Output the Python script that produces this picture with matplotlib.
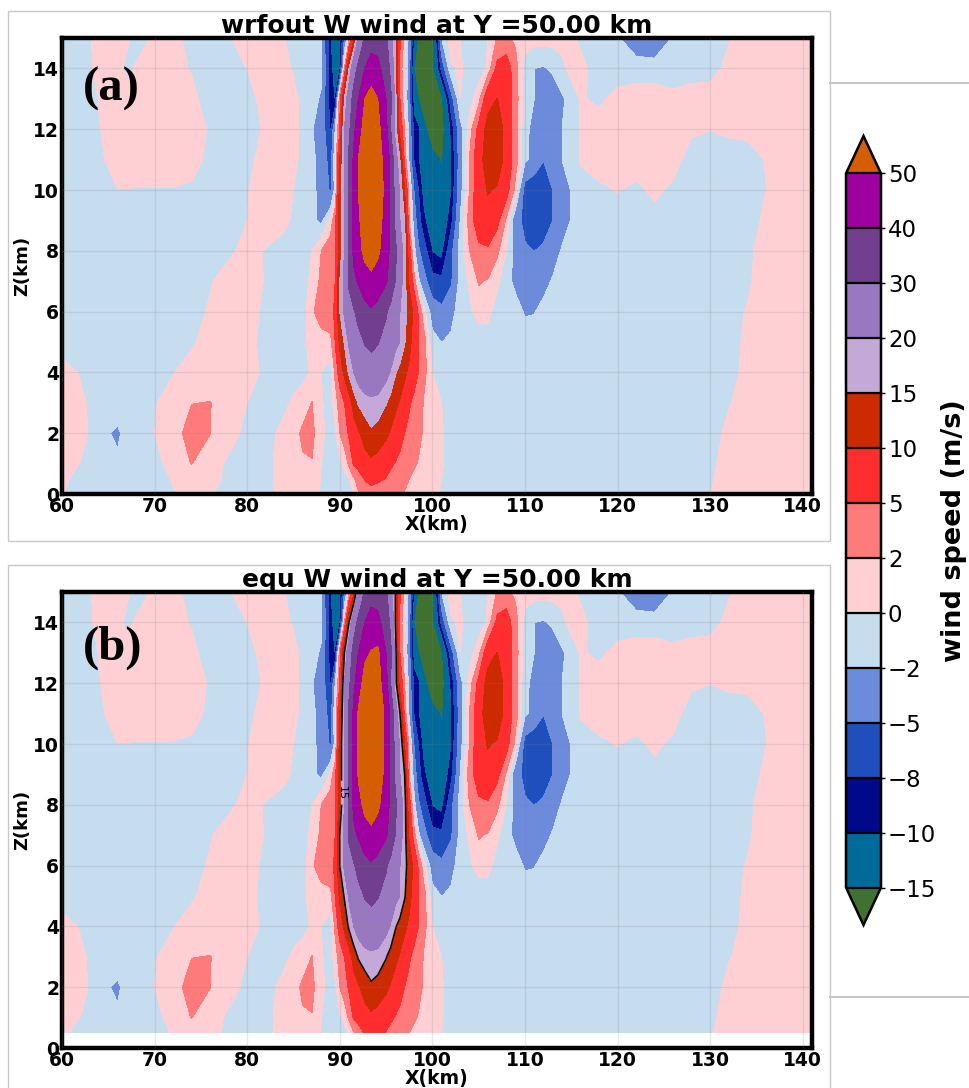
import numpy as np
from matplotlib import pyplot as plt
from matplotlib.patches import Rectangle
from matplotlib.lines import Line2D

z_km = [15, 14, 13, 12, 11, 10, 9, 8, 7, 6, 5, 4, 3, 2, 1, 0.5, 0]

x_left = [60, 62, 64, 66, 67, 68, 70, 72, 74, 76, 78, 80, 82, 84, 85, 86, 87, 88]
w_left = [
    [-1, -1.2, .8, 1.3, .4, -.7, .25, 1, -1.1, -1, -.15, .85, 1, .05, -.5, -1, -1.2, -1.9],
    [-1, -1.3, .7, .75, -.5, .2, 1, .8, -.2, -1, -1, .05, 1, .35, -.15, -.8, -1.1, -1.6],
    [-1, -1.9, .1, 1, 1, 1, 1, 1, .7, -1.3, -1, -1, 1, 1, .5, -.5, -1.5, -2.2],
    [-1, -1, -.1, 1, 1, 1, 1, 1, 1.2, -.3, -1, -1.5, .5, 1, .6, -.4, -1.9, -2.8],
    [-1, -1, -.6, 1.4, 1, 1, 1, 1, .6, -.4, -1, -.8, 1.2, 1, .5, -.5, -1.6, -2.7],
    [-1, -1, -.6, -.05, -.05, -.1, -.1, -.1, -.25, -.6, -1, -.1, .9, 1, 0, -1, -1.7, -2.4],
    [-1, -1, -1, -1, -1, -1, -1, -1, -1, -1, -1, 0, 1, .6, -.4, -1, -1.3, -2.6],
    [-1, -1, -1, -1, -1, -1, -1, -1, -1, -1, -.4, .6, -.13, -1, -1, -.6, 0, 2],
    [-1, -1, -1, -1, -1, -1, -1, -1, -1, -.15, .85, 1, -.15, -1, -1, -.8, .5, 2.5],
    [-1, -1, -1, -1, -1, -1, -1, -1, -.75, .25, 1, .65, -.35, -1, -1, -1, 1.7, 3],
    [-1, -1, -1, -1, -1, -1, -1, -1, -.3, .9, 1, .5, -.5, -1, -1, -.4, .6, 1.2],
    [.85, -.15, -1, -1, -1, -1, -1, -.1, .9, 1, 1, .65, -.35, -1, -1, -.7, .3, 0],
    [1, .3, -.7, -.5, -1, -1, -.15, .85, 1.95, 2.05, 1, 0, -1, -.6, .4, 1.2, 2.05, .2],
    [1, .8, -1.2, -2.5, -1, -1, 0, 1, 3, 2.05, .7, -.47, -1.1, .9, 1.4, 2.3, 2.5, .6],
    [.95, -.05, -1, -1.5, -1, -1, -.9, 1.1, 2.05, .7, -.3, -1, -.8, 1.2, 1.3, 1.8, 1.9, 0],
    [.4, -.6, -1, -1, -1, -1, -1.7, .3, 1, .6, -.4, -1, -.8, 1.2, 1, 1, 1, -.1],
    [.1, -.9, -1, -1, -1, -1, -1, -.25, .75, .4, -1.6, -1, -1, 1, 1, 1, .8, -.2],
]

x_core = [89, 89.5, 90, 90.5, 91, 91.5, 92, 92.7, 93.4, 94.1, 95, 95.5, 96, 96.5, 97, 97.5, 98, 98.5, 99]
w_core = [
    [-10.2, -12, -11.5, -5, 1, 8, 21, 31, 36, 35, 32, 22, 15, 6, 1, -3, -10.5, -16, -18],
    [-9.5, -11.5, -11, 2, 15, 26, 32, 40, 44, 43, 35, 28, 15, 3.5, 0, -3.5, -15, -19, -21],
    [-9.5, -10.2, 4, 15, 25, 33, 40, 50, 54, 50, 40, 32, 17, 5, 0, -4, -12, -15, -18],
    [-8.5, -2, 5, 20, 28, 38, 45, 54, 57, 53, 43, 30, 17, 8, 2, -3, -8.5, -9.7, -13],
    [-6.5, 0, 10, 20, 32, 41.5, 50, 57, 60, 56, 45, 38, 24, 15, 4, -2.5, -8, -10, -11.5],
    [-5.5, -1, 12, 20, 32, 42, 50, 59, 62, 58, 46, 38, 27, 19, 10, 1, -5, -8, -11],
    [.5, 4, 12, 20, 32, 41.5, 48, 56, 59, 55, 45, 38, 28, 20, 15, 2, -3, -7, -9.3],
    [3.5, 4.5, 11.7, 20, 32, 42, 46, 53, 56, 52, 44, 38, 32, 24, 17, 7, -1, -4.5, -6.5],
    [3.5, 5, 15, 22, 32, 38, 41, 45, 47, 45, 41, 37, 30, 23, 17, 9, 3.5, -1.5, -3.5],
    [4, 5.5, 15, 21, 25, 29, 33, 37, 39, 37, 31, 27, 23, 20, 16.5, 13, 9, 4.5, 1],
    [1.2, 5, 11, 15.5, 21, 24, 27, 30.5, 31.5, 30.5, 27, 24, 22, 20, 15.5, 11.5, 8, 5, 3.3],
    [-1, 2.5, 7, 11, 16, 20, 23, 26, 27, 25.5, 22, 19.5, 15.5, 13, 11, 9, 7, 5, 3],
    [-.9, 1, 3, 5, 7.5, 12, 15.5, 17.5, 18.25, 18, 15.3, 13, 11, 9.5, 7.5, 5.5, 4, 3, 2],
    [-1, -.3, 2, 3.5, 5.5, 7.5, 9.3, 12, 14.2, 13, 11, 9.5, 8, 6.5, 5, 4, 3, 2.4, 1.9],
    [-1, -.8, -.4, .4, 2.5, 5.5, 6.5, 8, 8.95, 8, 6.5, 5.6, 4.8, 4, 3.2, 2.7, 2.2, 1.9, 1.6],
    [-1, -1, -.8, -.4, 0, 1.7, 3, 5.3, 6.5, 5.8, 4.8, 4, 3.4, 2.8, 2.4, 2, 1.7, 1.4, 1.2],
    [-1, -1, -1, -.9, -.6, -.1, 1.7, 2.5, 3, 2.8, 2.4, 2.2, 2.1, 2, 1.9, 1.6, 1.4, 1.2, 1],
]

x_right = [100, 101, 102, 103, 104, 105, 106, 107, 108, 109, 110, 111, 112, 113, 114, 115, 116,
           118, 120, 122, 124, 126, 128, 130, 132, 134, 136, 138, 141]
w_right = [
    [-17, -2, 1, 0, -1, -1, 0, 2.2, 2.6, 1.5, .8, .8, .8, .8, .8, .5, -.4,
     -1, -1.8, -3.5, -4, -1.8, -1, -1, -.2, 1, 1, 1, 1],
    [-16.5, -7, -.3, .3, -.8, -1, .3, 6, 7, 2.8, -.7, -2, -2.2, -1.7, -.6, .8, .6,
     -1, -1, -1, -1, -1, -1, -.8, .6, 1, 1, 1, 1],
    [-19, -16, -6.5, 0, -.7, 1, 8, 10.1, 8, 3, -1, -2, -3, -3.2, -2.3, -1.3, .2,
     -.4, .6, 1, 1, .5, 1, 1, 1, 1, 1, 1, 1],
    [-19, -17, -10, -3, .7, 6, 12, 13, 8, 3, -1.5, -2.6, -3.5, -3.2, -2, -1.2, .1,
     .9, 1, 1, 1, 1, .4, .05, .4, .6, 1, 1, 1],
    [-13, -15.6, -10.5, -3.5, 2, 8, 12.5, 13, 8, 3, -1.5, -3, -4.9, -3.8, -2, -1.3, .2,
     1, 1, 1, 1, .9, -1.1, -1, -1, -1, .1, 1, 1],
    [-13, -13.5, -10.5, -3, 2, 8, 10.3, 9.5, 6.5, 1, -6.3, -7, -7.5, -5, -3, -1.9, -.8,
     -.4, .1, -.43, .4, -.4, -1, -1, -1, -1, -.05, 1, 1],
    [-12.5, -12.5, -9, -2, 3, 7.5, 8.5, 6, 1.5, -4, -5.7, -6, -6.5, -5, -3, -1.9, -1,
     -1, -1, -1, -.6, -1, -1, -1, -1, -1, .43, 1, 1],
    [-10.2, -11, -6, -1, 2, 4, 4.4, 2.5, 0, -3, -4.7, -5.05, -4.5, -3, -1.8, -1, -1,
     -1, -1, -1, -1, -1, -1, -1, -1, -.7, 1.3, 1, 1],
    [-7.2, -7.4, -5.5, -1.2, .3, 2.2, 1.8, .4, -1.4, -2.5, -3.5, -3.7, -2.7, -1.8, -1, -1, -1,
     -1, -1, -1, -1, -1, -1, -1, -1, -.5, 1.5, 1, 1],
    [-3.2, -4.3, -2.8, -1, -.4, .9, .6, -.8, -1, -1.3, -2.2, -2.1, -1.4, -1, -1, -1, -1,
     -1, -1, -1, -1, -1, -1, -1, -1, .2, 1, 1, 1],
    [-1.2, -2.05, -1.6, -1, -1, -1.3, -1, -1, -1, -1, -1.1, -1, -1, -1, -1, -1, -1,
     -1, -1, -1, -1, -1, -1, -1, -1, .5, 1, 1, 1],
    [0, -.8, -1, -1, -1, -1, -1, -1, -1, -1, -1, -1, -1, -1, -1, -1, -1,
     -1, -1, -1, -1, -1, -1, -1, -1.1, .9, 1, 1, 1],
    [.5, 0, -1, -1, -1, -1, -1, -1, -1, -1, -1, -1, -1, -1, -1, -1, -1,
     -1, -1, -1, -1, -1, -1, -1, -.2, 1, 1, 1, 1],
    [.8, .2, -.8, -1, -1, -1, -1, -1, -1, -1, -1, -1, -1, -1, -1, -1, -1,
     -1, -1, -1, -1, -1, -1, -1.3, .7, 1, 1, 1, 1],
    [.9, .2, -.8, -1, -1, -1, -1, -1, -1, -1, -1, -1, -1, -1, -1, -1, -1,
     -1, -1, -1, -1, -1, -1, -.7, 1.3, 1, 1, 1, 1],
    [.8, 0, -1, -1, -1, -1, -1, -1, -1, -1, -1, -1, -1, -1, -1, -1, -1,
     -1, -1, -1, -1, -1, -1, -.4, 1.6, 1, 1, 1, 1],
    [.6, -.2, -1, -1, -1, -1, -1, -1, -1, -1, -1, -1, -1, -1, -1, -1, -1,
     -1, -1, -1, -1, -1, -1, -.1, 1.9, 1, 1, 1, 1],
]

# rows of the updraft core that differ in the equ panel
equ_core_z13 = [-9.5, -10.2, 4, 15, 25, 33, 40, 48, 50.5, 52, 40, 32, 17, 5, 0, -4, -12, -15, -18]
equ_core_z12 = [-8.5, -2, 5, 20, 28, 38, 45, 54, 57, 54, 44, 30, 17, 8, 2, -3, -8.5, -9.7, -13]
equ_core_z11 = [-6.5, 0, 10, 20, 32, 42, 51, 58, 60, 58, 47, 38, 24, 15, 4, -2.5, -8, -10, -11.5]
equ_core_z10 = [-5.5, -1, 12, 20, 32, 42, 52, 59, 60, 59, 47, 38, 27, 19, 10, 1, -5, -8, -11]
equ_core_z9 = [.5, 4, 12, 20, 32, 42, 51, 57, 58, 57, 46, 38, 28, 20, 15, 2, -3, -7, -9.3]

levels = [-15, -10, -8, -5, -2, 0, 2, 5, 10, 15, 20, 30, 40, 50]
colors = ['#006a9a', '#00098a', '#1f4fbd', '#6c8bdb', '#c6dcef', '#ffd0d3', '#ff7b7b',
          '#ff2d2d', '#cc2a00', '#c4a9d8', '#9a78c0', '#723e8e', '#a000a0']
color_under = '#3f7230'
color_over = '#d55e00'

x = np.array(x_left + x_core + x_right)
z = np.array(z_km)
wrf = np.hstack([w_left, w_core, w_right])

equ_core = np.array(w_core)
equ_core[2] = equ_core_z13
equ_core[3] = equ_core_z12
equ_core[4] = equ_core_z11
equ_core[5] = equ_core_z10
equ_core[6] = equ_core_z9
equ = np.hstack([w_left, equ_core, w_right])

W, H = 970, 1088
fig = plt.figure(figsize=(W / 100, H / 100), dpi=100)


def px_box(left, top, right, bottom):
    return [left / W, 1 - bottom / H, (right - left) / W, (bottom - top) / H]


def panel(box, xs, zs, data, title, letter, letter_y):
    ax = fig.add_axes(px_box(*box))
    cf = ax.contourf(xs, zs, data, levels=levels, colors=colors, extend='both')
    cf.cmap.set_under(color_under)
    cf.cmap.set_over(color_over)
    cf.changed()
    ax.set_xlim(60, 141)
    ax.set_ylim(0, 15)
    ax.set_xticks(range(60, 141, 10))
    ax.set_yticks(range(0, 15, 2))
    ax.grid(True, color='gray', alpha=0.18, linewidth=1)
    ax.set_axisbelow(False)
    ax.tick_params(length=0, pad=2, labelsize=13.5)
    for t in ax.get_xticklabels() + ax.get_yticklabels():
        t.set_fontweight('bold')
    for s in ax.spines.values():
        s.set_linewidth(3.2)
    ax.set_title(title, fontsize=18, fontweight='bold', pad=-1)
    ax.set_xlabel('X(km)', fontsize=13.5, fontweight='bold', labelpad=-0.5)
    ax.set_ylabel('Z(km)', fontsize=13, fontweight='bold', labelpad=1.5)
    fig.text(83 / W, 1 - letter_y / H, letter, family='Liberation Serif', fontweight='bold',
             fontsize=35, va='center', ha='left')
    return ax, cf


ax_a, cf_a = panel((62, 38, 812, 494), x, z, wrf, 'wrfout W wind at Y =50.00 km', '(a)', 89)
ax_b, cf_b = panel((62, 592, 812, 1048), x, z[:-1], equ[:-1], 'equ W wind at Y =50.00 km', '(b)', 648)

cs = ax_b.contour(x, z[:-1], equ[:-1], levels=[15], colors='black', linewidths=1.1)
ax_b.clabel(cs, fmt='%d', fontsize=8, manual=[(89.9, 8.4)])

# grey frames left by the screenshot panels
fig.add_artist(Rectangle((8 / W, 1 - 541 / H), 822 / W, 530 / H, transform=fig.transFigure,
                         fill=False, edgecolor='#c8c8c8', linewidth=1, zorder=0))
fig.add_artist(Rectangle((8 / W, 1 - 1100 / H), 822 / W, 535 / H, transform=fig.transFigure,
                         fill=False, edgecolor='#c8c8c8', linewidth=1, zorder=0))
for y_line in (83, 997):
    fig.add_artist(Line2D([830 / W, 1], [1 - y_line / H] * 2, color='#c8c8c8', linewidth=1.5, zorder=0))

cax = fig.add_axes(px_box(846, 136, 881, 925))
cbar = fig.colorbar(cf_a, cax=cax, ticks=levels, spacing='uniform', extendfrac=0.0525,
                    drawedges=True)
cbar.outline.set_linewidth(1.8)
cbar.dividers.set_linewidth(1.6)
cbar.dividers.set_color('black')
cax.tick_params(labelsize=16.5, length=3, width=1, pad=2)
cbar.set_label('wind speed (m/s)', fontsize=19.5, fontweight='bold', labelpad=3.5)

plt.savefig('out.png', dpi=100)
